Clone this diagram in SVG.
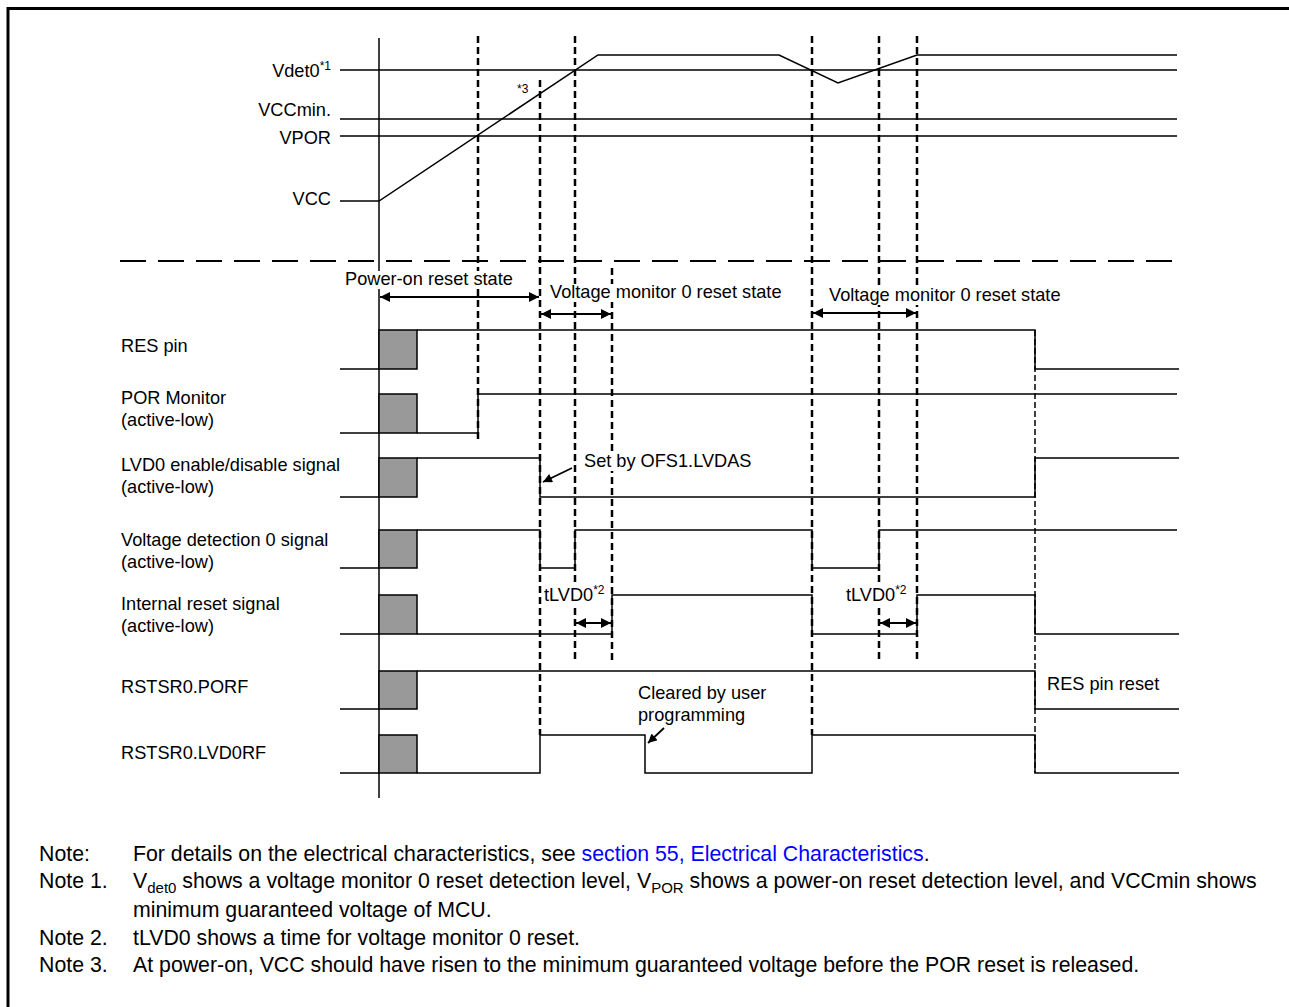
<svg xmlns="http://www.w3.org/2000/svg" width="1289" height="1007" viewBox="0 0 1289 1007">
<style>
text{font-family:"Liberation Sans",Arial,sans-serif;fill:#000}
.lb{font-size:18.2px}
.nt{font-size:21.3px}
.sup{font-size:12px}
.sub{font-size:15px}
.sig{fill:none;stroke:#000;stroke-width:1.5}
.dash{fill:none;stroke:#000;stroke-width:2.5;stroke-dasharray:7 4}
.dash2{fill:none;stroke:#000;stroke-width:1.5;stroke-dasharray:6 3}
.box{fill:#999;stroke:#000;stroke-width:1.5}
.arr{fill:none;stroke:#000;stroke-width:1.8}
.bg{fill:#fff}
</style>
<defs>
<marker id="ah" viewBox="0 0 10 10" refX="10" refY="5" markerWidth="14" markerHeight="10" markerUnits="userSpaceOnUse" orient="auto-start-reverse">
<path d="M0,0 L10,5 L0,10 Z" fill="#000"/>
</marker>
<marker id="sa" viewBox="0 0 10 10" refX="10" refY="5" markerWidth="10" markerHeight="9" markerUnits="userSpaceOnUse" orient="auto">
<path d="M0,0 L10,5 L0,10 Z" fill="#000"/>
</marker>
</defs>
<rect width="1289" height="1007" fill="#fff"/>
<path d="M8,1010 V8.5 H1292" fill="none" stroke="#000" stroke-width="3"/>

<g id="voltage-levels">
<path class="sig" d="M340,70 H1177 M340,119 H1177 M340,136 H1177"/>
<path class="sig" d="M340,201 H379 L598,55 H779 L838,83 L917,55 H1177"/>
<text class="lb" x="331" y="77" text-anchor="end">Vdet0<tspan class="sup" dy="-7">*1</tspan></text>
<text class="lb" x="331" y="116" text-anchor="end">VCCmin.</text>
<text class="lb" x="331" y="144" text-anchor="end">VPOR</text>
<text class="lb" x="331" y="205" text-anchor="end">VCC</text>
<text class="sup" x="517" y="93">*3</text>
</g>

<g id="axis">
<line class="sig" x1="379" y1="38" x2="379" y2="798"/>
<line x1="120" y1="261" x2="1177" y2="261" stroke="#000" stroke-width="2" stroke-dasharray="26 12"/>
</g>

<g id="connectors">
<path class="dash" d="M478,36 V443"/>
<path class="dash" d="M540,80 V735"/>
<path class="dash" d="M575,36 V660"/>
<path class="dash" d="M612,268 V660"/>
<path class="dash" d="M812,36 V735"/>
<path class="dash" d="M879,36 V660"/>
<path class="dash" d="M917,36 V660"/>
<path class="dash2" d="M1035,330 V773"/>
<line class="arr" x1="380" y1="297" x2="539" y2="297" marker-start="url(#ah)" marker-end="url(#ah)"/>
<line class="arr" x1="541" y1="314" x2="611" y2="314" marker-start="url(#ah)" marker-end="url(#ah)"/>
<line class="arr" x1="813" y1="313" x2="916" y2="313" marker-start="url(#ah)" marker-end="url(#ah)"/>
<line class="arr" x1="576" y1="623" x2="611" y2="623" marker-start="url(#ah)" marker-end="url(#ah)"/>
<line class="arr" x1="880" y1="623" x2="916" y2="623" marker-start="url(#ah)" marker-end="url(#ah)"/>
<line class="arr" x1="572" y1="468" x2="543" y2="482" marker-end="url(#sa)"/>
<line class="arr" x1="664" y1="728" x2="648" y2="743" marker-end="url(#sa)"/>
</g>

<g id="state-labels">
<rect class="bg" x="344" y="271" width="170" height="18"/>
<text class="lb" x="345" y="285">Power-on reset state</text>
<rect class="bg" x="549" y="284" width="235" height="18"/>
<text class="lb" x="550" y="298">Voltage monitor 0 reset state</text>
<rect class="bg" x="828" y="287" width="235" height="18"/>
<text class="lb" x="829" y="301">Voltage monitor 0 reset state</text>
<rect class="bg" x="583" y="452" width="172" height="19"/>
<text class="lb" x="584" y="467">Set by OFS1.LVDAS</text>
<rect class="bg" x="543" y="584" width="66" height="20"/>
<text class="lb" x="544" y="601">tLVD0<tspan class="sup" dy="-7">*2</tspan></text>
<rect class="bg" x="845" y="584" width="66" height="20"/>
<text class="lb" x="846" y="601">tLVD0<tspan class="sup" dy="-7">*2</tspan></text>
<text class="lb" x="638" y="699">Cleared by user</text>
<text class="lb" x="638" y="721">programming</text>
<text class="lb" x="1047" y="690">RES pin reset</text>
</g>

<g id="res-pin">
<text class="lb" x="121" y="352">RES pin</text>
<rect class="box" x="379" y="330" width="38" height="39"/>
<path class="sig" d="M340,369 H379 M417,330 H1035 V369 H1179"/>
</g>

<g id="por-monitor">
<text class="lb" x="121" y="404">POR Monitor</text>
<text class="lb" x="121" y="426">(active-low)</text>
<rect class="box" x="379" y="394" width="38" height="39"/>
<path class="sig" d="M340,433 H379 M417,433 H478 V394 H1177"/>
</g>

<g id="lvd0-enable">
<text class="lb" x="121" y="471">LVD0 enable/disable signal</text>
<text class="lb" x="121" y="493">(active-low)</text>
<rect class="box" x="379" y="458" width="38" height="39"/>
<path class="sig" d="M340,497 H379 M417,458 H540 V497 H1035 V458 H1179"/>
</g>

<g id="voltage-detection-0">
<text class="lb" x="121" y="546">Voltage detection 0 signal</text>
<text class="lb" x="121" y="568">(active-low)</text>
<rect class="box" x="379" y="530" width="38" height="38"/>
<path class="sig" d="M340,568 H379 M417,530 H540 V568 H575 V530 H812 V568 H879 V530 H1177"/>
</g>

<g id="internal-reset">
<text class="lb" x="121" y="610">Internal reset signal</text>
<text class="lb" x="121" y="632">(active-low)</text>
<rect class="box" x="379" y="595" width="38" height="39"/>
<path class="sig" d="M340,634 H379 M417,634 H612 V595 H812 V634 H917 V595 H1035 V634 H1179"/>
</g>

<g id="rstsr0-porf">
<text class="lb" x="121" y="693">RSTSR0.PORF</text>
<rect class="box" x="379" y="671" width="38" height="38"/>
<path class="sig" d="M340,709 H379 M417,671 H1035 V709 H1179"/>
</g>

<g id="rstsr0-lvd0rf">
<text class="lb" x="121" y="759">RSTSR0.LVD0RF</text>
<rect class="box" x="379" y="735" width="38" height="38"/>
<path class="sig" d="M340,773 H379 M417,773 H540 V735 H645 V773 H812 V735 H1035 V773 H1179"/>
</g>

<g id="notes">
<text class="nt" x="39" y="861">Note:</text>
<text class="nt" x="133" y="861">For details on the electrical characteristics, see <tspan fill="#0000ff">section 55, Electrical Characteristics</tspan>.</text>
<text class="nt" x="39" y="888">Note 1.</text>
<text class="nt" x="133" y="888">V<tspan class="sub" dy="5">det0</tspan><tspan dy="-5"> shows a voltage monitor 0 reset detection level, V</tspan><tspan class="sub" dy="5">POR</tspan><tspan dy="-5"> shows a power-on reset detection level, and VCCmin shows</tspan></text>
<text class="nt" x="133" y="917">minimum guaranteed voltage of MCU.</text>
<text class="nt" x="39" y="945">Note 2.</text>
<text class="nt" x="133" y="945">tLVD0 shows a time for voltage monitor 0 reset.</text>
<text class="nt" x="39" y="972">Note 3.</text>
<text class="nt" x="133" y="972">At power-on, VCC should have risen to the minimum guaranteed voltage before the POR reset is released.</text>
</g>
</svg>
